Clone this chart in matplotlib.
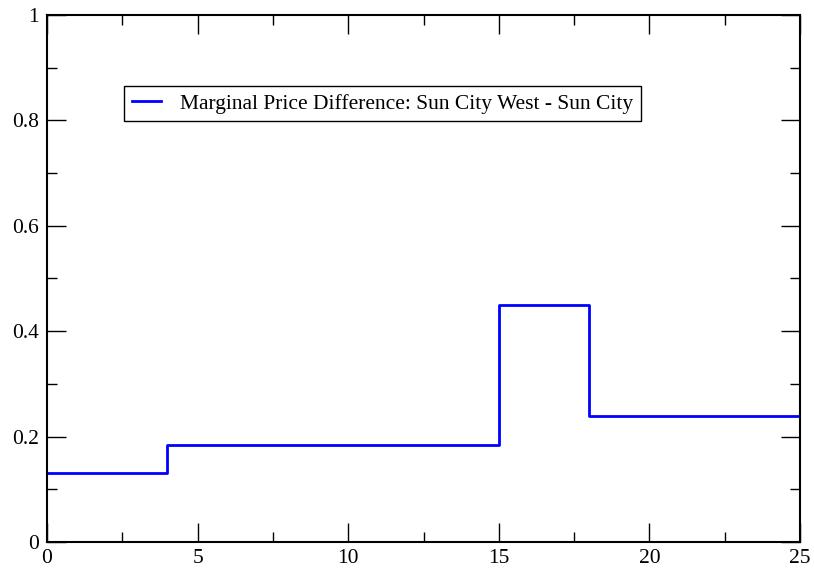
import matplotlib
matplotlib.use("Agg")
import matplotlib.pyplot as plt
from matplotlib.ticker import MultipleLocator, FuncFormatter

plt.rcParams['font.family'] = ['Liberation Serif', 'DejaVu Serif']

# Step data: value holds from each edge to the next
x_edges = [0, 4, 15, 18, 25]
y_vals = [0.13, 0.185, 0.45, 0.24, 0.24]
label = "Marginal Price Difference: Sun City West - Sun City"

fig = plt.figure(figsize=(8.14, 5.73), dpi=100)
ax = fig.add_axes([47/814, 1-542/573, (800-47)/814, (542-15)/573])

ax.step(x_edges, y_vals, where='post', color='#0000ff', lw=2, label=label)

ax.set_xlim(0, 25)
ax.set_ylim(0, 1)
ax.xaxis.set_major_locator(MultipleLocator(5))
ax.xaxis.set_minor_locator(MultipleLocator(2.5))
ax.yaxis.set_major_locator(MultipleLocator(0.2))
ax.yaxis.set_minor_locator(MultipleLocator(0.1))
ax.xaxis.set_major_formatter(FuncFormatter(lambda v, p: f"{v:g}"))
ax.yaxis.set_major_formatter(FuncFormatter(lambda v, p: f"{v:g}"))
ax.tick_params(which='both', direction='in', top=True, right=True, labelsize=15.5, width=1)
ax.tick_params(which='major', length=14)
ax.tick_params(which='minor', length=7)
ax.tick_params(axis='x', which='major', pad=5)
ax.tick_params(axis='y', which='major', pad=6)
for s in ax.spines.values():
    s.set_linewidth(1.5)

leg = ax.legend(loc='upper left', bbox_to_anchor=((124-47)/753, (542-86)/527),
                fontsize=15.5, frameon=True, fancybox=False, framealpha=1,
                edgecolor='black', handlelength=1.35, borderpad=0.35, handletextpad=0.9,
                borderaxespad=0)
leg.get_frame().set_linewidth(1)

fig.savefig("out.png", dpi=100)
